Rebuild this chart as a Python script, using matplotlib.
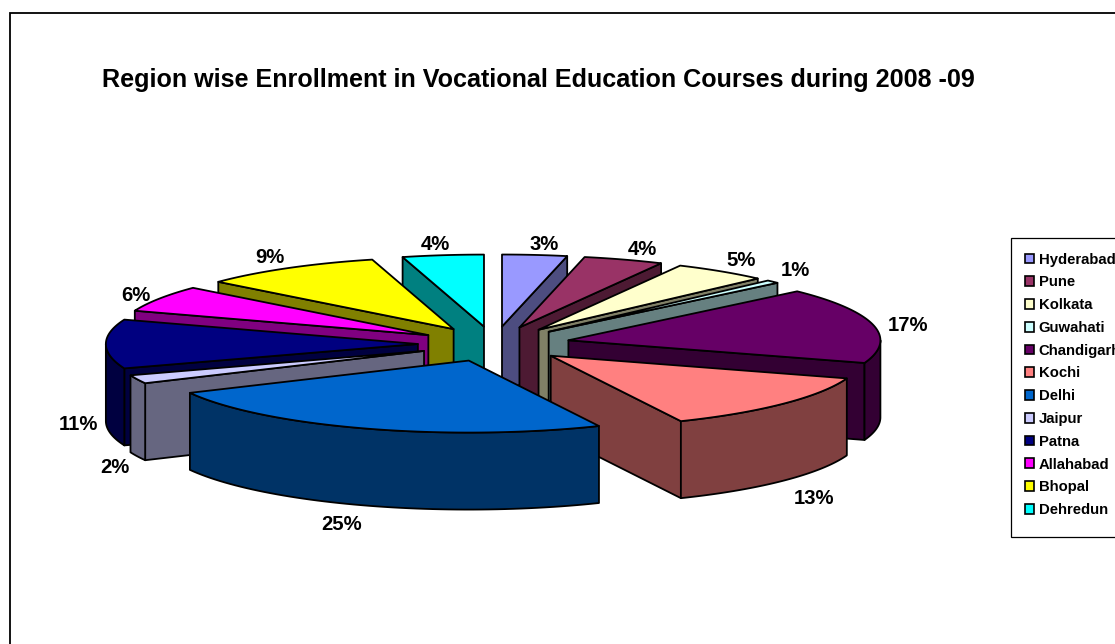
import numpy as np
import matplotlib
matplotlib.use('Agg')
import matplotlib.pyplot as plt
from matplotlib.patches import Patch, Polygon, Rectangle

plt.rcParams['font.family'] = ['Liberation Sans', 'DejaVu Sans']

TITLE = 'Region wise Enrollment in Vocational Education Courses during 2008 -09'
regions = ['Hyderabad', 'Pune', 'Kolkata', 'Guwahati', 'Chandigarh', 'Kochi',
           'Delhi', 'Jaipur', 'Patna', 'Allahabad', 'Bhopal', 'Dehredun']
shares = [3.35, 4.15, 4.9, 0.7, 17.0, 13.05, 24.45, 1.9, 11.0, 5.9, 9.4, 4.2]
share_labels = ['3%', '4%', '5%', '1%', '17%', '13%',
                '25%', '2%', '11%', '6%', '9%', '4%']
colors = ['#9999FF', '#993366', '#FFFFCC', '#CCFFFF', '#660066', '#FF8080',
          '#0066CC', '#CCCCFF', '#000080', '#FF00FF', '#FFFF00', '#00FFFF']

# pie geometry, in pixels of the 1115x644 canvas
CX, CY = 494, 344
RX, RY = 312, 72
EXPLODE = 0.244
DEPTH = 77

# label centres, one per slice
label_pos = [(544, 244), (642, 249), (741, 260), (795, 270), (908, 325),
             (814, 498), (342, 525), (115, 467), (78, 424), (136, 295),
             (270, 257), (435, 244)]


def Shade(color):
  return tuple(c * 0.5 for c in matplotlib.colors.to_rgb(color))


def RimPoint(apex, angle):
  return (apex[0] + RX * np.sin(angle), apex[1] - RY * np.cos(angle))


def Extrude(points):
  return list(points) + [(x, y + DEPTH) for (x, y) in reversed(points)]


def DrawFace(ax, points, color):
  ax.add_patch(Polygon(points, closed=True, facecolor=color, edgecolor='k',
                       linewidth=1.3, joinstyle='round'))


def DrawSlice(ax, start, end, color):
  middle = (start + end) / 2
  apex = (CX + EXPLODE * RX * np.sin(middle),
          CY - EXPLODE * RY * np.cos(middle))
  dark = Shade(color)
  # only the cut faces that turn towards the viewer
  if np.sin(start) < -1e-9:
    DrawFace(ax, Extrude([apex, RimPoint(apex, start)]), dark)
  if np.sin(end) > 1e-9:
    DrawFace(ax, Extrude([apex, RimPoint(apex, end)]), dark)
  low = max(start, np.pi / 2)
  high = min(end, 3 * np.pi / 2)
  if low < high:
    angles = np.linspace(low, high, 60)
    DrawFace(ax, Extrude([RimPoint(apex, a) for a in angles]), dark)
  angles = np.linspace(start, end, 60)
  DrawFace(ax, [apex] + [RimPoint(apex, a) for a in angles], color)


def main():
  fig = plt.figure(figsize=(11.15, 6.44), dpi=100)
  ax = fig.add_axes([0, 0, 1, 1])
  ax.set_xlim(0, 1115)
  ax.set_ylim(644, 0)
  ax.axis('off')
  ax.add_patch(Rectangle((9.5, 12.5), 1200, 700, facecolor='white',
                         edgecolor='k', linewidth=1.3))

  edges = np.cumsum([0] + shares) / sum(shares) * 2 * np.pi
  slices = list(zip(edges[:-1], edges[1:], colors))
  # painter's order, back of the pie first
  slices.sort(key=lambda s: -np.cos((s[0] + s[1]) / 2))
  for start, end, color in slices:
    DrawSlice(ax, start, end, color)

  for label, (x, y) in zip(share_labels, label_pos):
    ax.text(x, y, label, ha='center', va='center', fontsize=14.6,
            fontweight='bold')

  ax.text(538, 80, TITLE, ha='center', va='center', fontsize=18.05,
          fontweight='bold')

  # the frame runs past the canvas and is taller than the entries need
  ax.add_patch(Rectangle((1010.5, 237.5), 200, 299.5, facecolor='white',
                         edgecolor='k', linewidth=0.9))
  handles = [Patch(facecolor=c, edgecolor='k', linewidth=1.2) for c in colors]
  ax.legend(handles, regions, loc='upper left',
            bbox_to_anchor=(1010.5 / 1115, 1 - 238.5 / 644),
            bbox_transform=fig.transFigure, borderaxespad=0,
            prop={'size': 10.7, 'weight': 'bold'},
            handlelength=0.62, handleheight=0.62, handletextpad=0.32,
            labelspacing=0.59, borderpad=0.95, frameon=False)

  fig.savefig('out.png', dpi=100)


if __name__ == '__main__':
  main()
